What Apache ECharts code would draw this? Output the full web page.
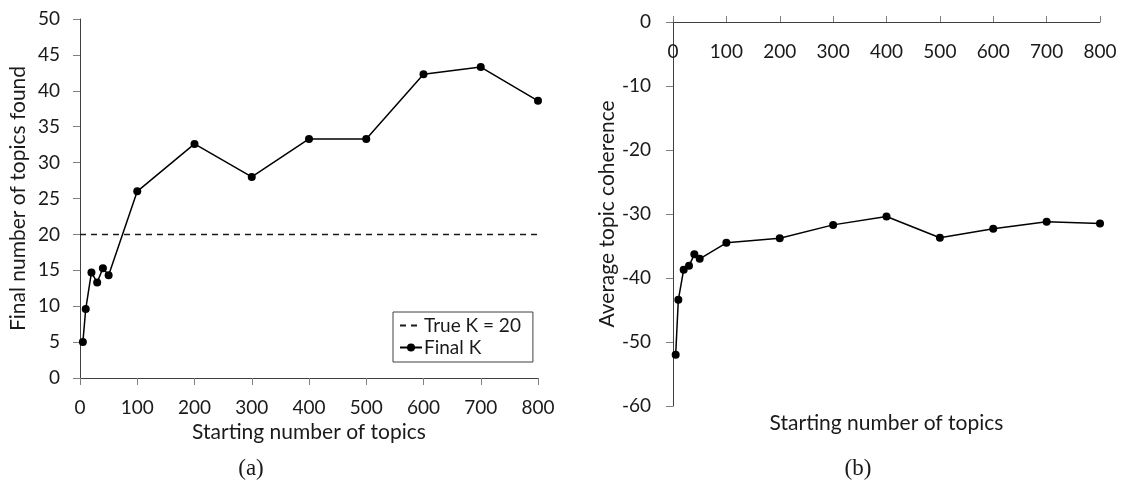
<!DOCTYPE html>
<html>
<head>
<meta charset="utf-8">
<script src="https://cdn.jsdelivr.net/npm/echarts@6/dist/echarts.min.js"></script>
<style>html,body{margin:0;padding:0;background:#fff}#c{width:1136px;height:490px}</style>
</head>
<body>
<div id="c"></div>
<script>
// Starting number of topics
const startTopics = [5, 10, 20, 30, 40, 50, 100, 200, 300, 400, 500, 600, 700, 800];
// (a) Final number of topics found
const finalK = [5, 9.6, 14.7, 13.3, 15.3, 14.3, 26, 32.6, 28, 33.3, 33.3, 42.3, 43.3, 38.6];
// True K reference line
const trueK = 20;
const trueKRange = [0, 800];
// (b) Average topic coherence
const coherence = [-52, -43.4, -38.7, -38.1, -36.3, -37.0, -34.5, -33.8, -31.7, -30.4, -33.7, -32.3, -31.2, -31.5];
const xTicks = [0, 100, 200, 300, 400, 500, 600, 700, 800];

const FONT = 'Lato';
const TXT = '#1a1a1a';
const axisLineC = '#404040';
const tickC = '#808080';

const chart = echarts.init(document.getElementById('c'), null, {renderer: 'canvas'});
const lbl = {color: TXT, fontFamily: FONT, fontSize: 19};
const ttl = {color: TXT, fontFamily: FONT, fontSize: 21};
chart.setOption({
  animation: false,
  backgroundColor: '#fff',
  title: [
    {text: '(a)', left: 246, top: 452, textAlign: 'center',
     textStyle: {fontFamily: 'Liberation Serif', fontSize: 23, fontWeight: 'normal', color: TXT}},
    {text: '(b)', left: 853, top: 452, textAlign: 'center',
     textStyle: {fontFamily: 'Liberation Serif', fontSize: 23, fontWeight: 'normal', color: TXT}}
  ],
  grid: [
    {left: 80, top: 19, width: 458, height: 359},
    {left: 673, top: 22, width: 427, height: 384}
  ],
  legend: {
    left: 393, top: 312, orient: 'vertical',
    padding: [4, 12, 5, 6], itemGap: 3, itemWidth: 22, itemHeight: 10,
    borderColor: '#404040', borderWidth: 1, backgroundColor: '#fff',
    textStyle: {fontFamily: FONT, fontSize: 19, color: TXT, padding: [0, 0, 0, -3]},
    data: [
      {name: 'True K = 20', itemStyle: {opacity: 0}},
      {name: 'Final K'}
    ]
  },
  xAxis: [
    {gridIndex: 0, type: 'value', min: 0, max: 800, interval: 100,
     name: 'Starting number of topics', nameLocation: 'middle', nameGap: 43,
     nameTextStyle: ttl,
     axisLine: {onZero: false, lineStyle: {color: axisLineC, width: 1}},
     axisTick: {show: true, length: 7, lineStyle: {color: tickC}},
     axisLabel: Object.assign({margin: 20, formatter: v => xTicks.includes(v) ? String(v) : ''}, lbl),
     splitLine: {show: false}},
    {gridIndex: 1, type: 'value', min: 0, max: 800, interval: 100, position: 'top',
     axisLine: {onZero: false, lineStyle: {color: axisLineC, width: 1}},
     axisTick: {show: true, length: 6, inside: false, lineStyle: {color: tickC}},
     axisLabel: Object.assign({inside: true, margin: 20, formatter: v => xTicks.includes(v) ? String(v) : ''}, lbl),
     splitLine: {show: false}},
    {gridIndex: 1, type: 'value', min: 0, max: 800, position: 'bottom',
     name: 'Starting number of topics', nameLocation: 'middle', nameGap: 7,
     nameTextStyle: ttl,
     axisLine: {show: false}, axisTick: {show: false}, axisLabel: {show: false}, splitLine: {show: false}}
  ],
  yAxis: [
    {gridIndex: 0, type: 'value', min: 0, max: 50, interval: 5,
     name: 'Final number of topics found', nameLocation: 'middle', nameGap: 51,
     nameTextStyle: ttl,
     axisLine: {show: true, lineStyle: {color: axisLineC, width: 1}},
     axisTick: {show: true, length: 7, lineStyle: {color: tickC}},
     axisLabel: Object.assign({margin: 20}, lbl),
     splitLine: {show: false}},
    {gridIndex: 1, type: 'value', min: -60, max: 0, interval: 10,
     name: 'Average topic coherence', nameLocation: 'middle', nameGap: 54,
     nameTextStyle: ttl,
     axisLine: {show: true, onZero: false, lineStyle: {color: axisLineC, width: 1}},
     axisTick: {show: true, length: 7, lineStyle: {color: tickC}},
     axisLabel: Object.assign({margin: 22}, lbl),
     splitLine: {show: false}}
  ],
  series: [
    {name: 'True K = 20', type: 'line', xAxisIndex: 0, yAxisIndex: 0,
     data: trueKRange.map(x => [x, trueK]), symbol: 'none',
     lineStyle: {color: '#1a1a1a', width: 1.5, type: [6, 5]},
     itemStyle: {color: '#1a1a1a'}},
    {name: 'Final K', type: 'line', xAxisIndex: 0, yAxisIndex: 0,
     data: startTopics.map((x, i) => [x, finalK[i]]), symbol: 'circle', symbolSize: 8,
     lineStyle: {color: '#000', width: 1.5}, itemStyle: {color: '#000'}},
    {name: 'Coherence', type: 'line', xAxisIndex: 1, yAxisIndex: 1,
     data: startTopics.map((x, i) => [x, coherence[i]]), symbol: 'circle', symbolSize: 8,
     lineStyle: {color: '#000', width: 1.5}, itemStyle: {color: '#000'}}
  ]
});
</script>
</body>
</html>
